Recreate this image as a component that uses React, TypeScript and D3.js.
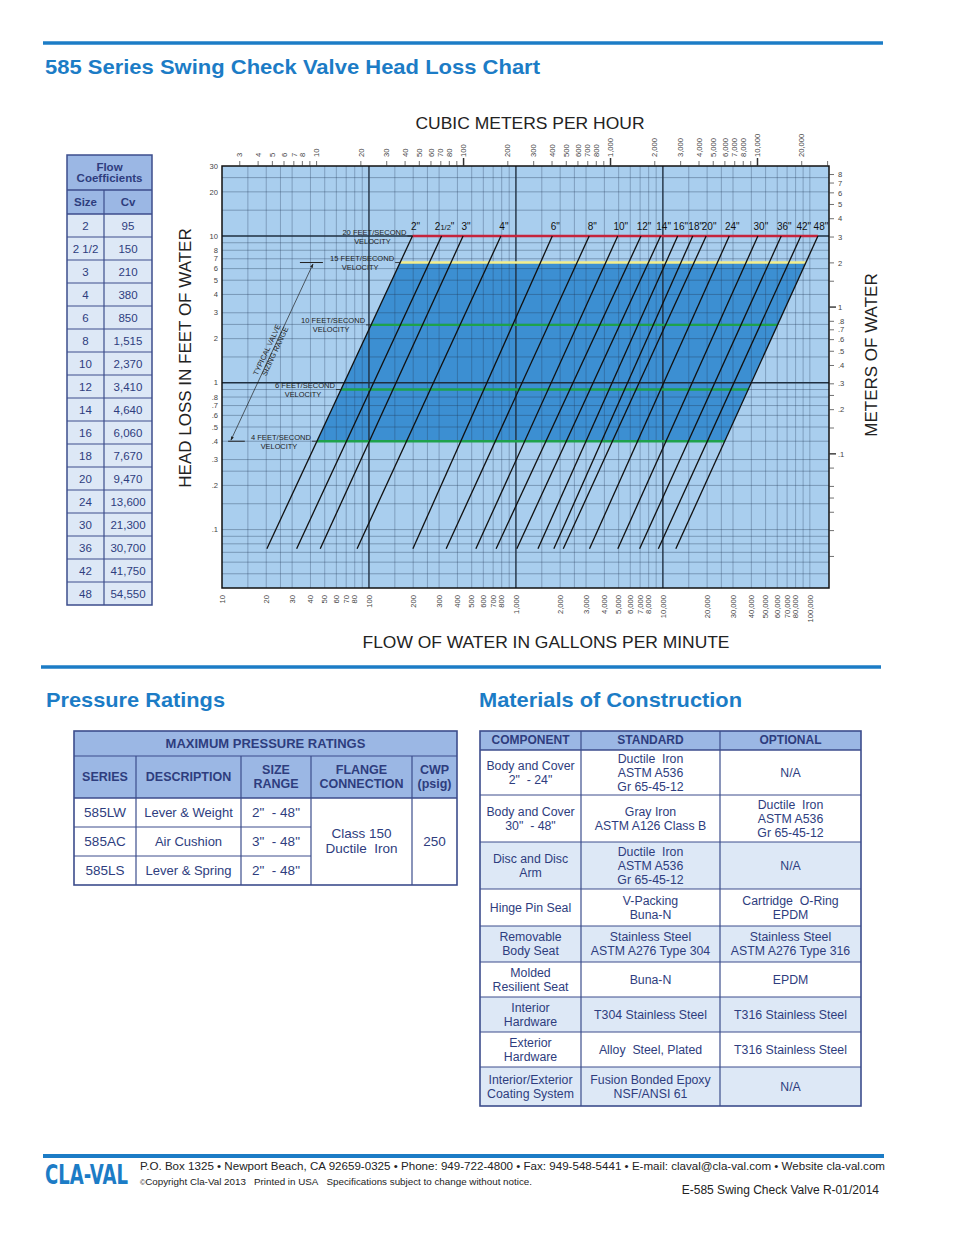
import React, { useLayoutEffect, useRef, useState } from 'react';
import * as d3 from 'd3';

// ---------- DATA ----------
const SIZE_LABELS = ['2"', '21/2"', '3"', '4"', '6"', '8"', '10"', '12"', '14"', '16"', '18"', '20"', '24"', '30"', '36"', '42"', '48"'];
const SIZE_TABLE = ['2', '2 1/2', '3', '4', '6', '8', '10', '12', '14', '16', '18', '20', '24', '30', '36', '42', '48'];
const CV = [95, 150, 210, 380, 850, 1515, 2370, 3410, 4640, 6060, 7670, 9470, 13600, 21300, 30700, 41750, 54550];
// lower end of each valve line (GPM)
const LINE_BOTTOM_GPM = [20.2, 32.2, 46.6, 83, 199, 335, 534, 733, 1014, 1412, 1811, 2100, 3167, 4935, 6944, 9310, 12250];
const HEAD_TOP_FT = 10;
const HEAD_BOTTOM_FT = 0.074;
const VELOCITY_FPS = [20, 15, 10, 6, 4];
const VELOCITY_HEAD_FT = [10, 6.6, 2.48, 0.9, 0.4];
const VELOCITY_COLORS = ['#c5243c', '#f3ee8c', '#1ea24c', '#1ea24c', '#1ea24c'];

const GPM_LABELS = [10, 20, 30, 40, 50, 60, 70, 80, 100, 200, 300, 400, 500, 600, 700, 800, 1000, 2000, 3000, 4000, 5000, 6000, 7000, 8000, 10000, 20000, 30000, 40000, 50000, 60000, 70000, 80000, 100000];
const M3H_LABELS = [3, 4, 5, 6, 7, 8, 10, 20, 30, 40, 50, 60, 70, 80, 100, 200, 300, 400, 500, 600, 700, 800, 1000, 2000, 3000, 4000, 5000, 6000, 7000, 8000, 10000, 20000];
const FT_LABELS = [30, 20, 10, 8, 7, 6, 5, 4, 3, 2, 1, 0.8, 0.7, 0.6, 0.5, 0.4, 0.3, 0.2, 0.1];
const M_LABELS = [8, 7, 6, 5, 4, 3, 2, 1, 0.8, 0.7, 0.6, 0.5, 0.4, 0.3, 0.2, 0.1];
const M_MINOR_TICKS = [1.5, 0.25, 0.15, 0.08, 0.06, 0.05, 0.04, 0.03, 0.02];
const GRID_MULT = [1, 1.5, 2, 2.5, 3, 4, 5, 6, 7, 8, 9];

const NB = '\u00A0';
const PR_HEAD = [['SERIES'], ['DESCRIPTION'], ['SIZE', 'RANGE'], ['FLANGE', 'CONNECTION'], ['CWP', '(psig)']];
const PR_SERIES = ['585LW', '585AC', '585LS'];
const PR_DESC = ['Lever & Weight', 'Air Cushion', 'Lever & Spring'];
const PR_RANGE = [`2"${NB} - 48"`, `3"${NB} - 48"`, `2"${NB} - 48"`];
const PR_FLANGE = ['Class 150', `Ductile${NB} Iron`];
const PR_CWP = '250';

const MAT_HEAD = ['COMPONENT', 'STANDARD', 'OPTIONAL'];
const MAT_COMPONENT = [['Body and Cover', `2"${NB} - 24"`], ['Body and Cover', `30"${NB} - 48"`], ['Disc and Disc', 'Arm'], ['Hinge Pin Seal'], ['Removable', 'Body Seat'], ['Molded', 'Resilient Seat'], ['Interior', 'Hardware'], ['Exterior', 'Hardware'], ['Interior/Exterior', 'Coating System']];
const MAT_STANDARD = [[`Ductile${NB} Iron`, 'ASTM A536', 'Gr 65-45-12'], ['Gray Iron', 'ASTM A126 Class B'], [`Ductile${NB} Iron`, 'ASTM A536', 'Gr 65-45-12'], ['V-Packing', 'Buna-N'], ['Stainless Steel', 'ASTM A276 Type 304'], ['Buna-N'], ['T304 Stainless Steel'], [`Alloy${NB} Steel, Plated`], ['Fusion Bonded Epoxy', 'NSF/ANSI 61']];
const MAT_OPTIONAL = [['N/A'], [`Ductile${NB} Iron`, 'ASTM A536', 'Gr 65-45-12'], ['N/A'], [`Cartridge${NB} O-Ring`, 'EPDM'], ['Stainless Steel', 'ASTM A276 Type 316'], ['EPDM'], ['T316 Stainless Steel'], ['T316 Stainless Steel'], ['N/A']];
const MAT_SHADED = [false, false, true, false, true, false, true, false, true];

// ---------- STYLE ----------
const FONT = "'Liberation Sans', Arial, Helvetica, sans-serif";
const BLUE = '#1c7cc6';
const NAVY = '#2e3d7e';
const HEAD_BG = '#9bb7e4';
const LIGHT_BG = '#dde8f6';
const BORDER = '#3c4d8c';
const GPM_PER_M3H = 4.40287;
const FT_PER_M = 1 / 0.3048;

const fmtComma = d3.format(',');
const fmtDec = (v: number) => (v < 1 ? String(v).replace(/^0/, '') : String(v));

function Lines({ x, y, lines, lh, ...rest }: any) {
  const y0 = y - ((lines.length - 1) * lh) / 2;
  return (
    <>
      {lines.map((t: string, i: number) => (
        <text key={i} x={x} y={y0 + i * lh} dy="0.35em" textAnchor="middle" {...rest}>
          {t}
        </text>
      ))}
    </>
  );
}

function SizeLabel({ label, x, y }: any) {
  if (label.indexOf('1/2') >= 0) {
    return (
      <text x={x} y={y} textAnchor="middle" fontSize={10} fill="#111">
        2<tspan fontSize={7.5}>1/2</tspan>"
      </text>
    );
  }
  return (
    <text x={x} y={y} textAnchor="middle" fontSize={10} fill="#111">
      {label}
    </text>
  );
}

function Logo() {
  const ref = useRef<SVGTextElement>(null);
  const [sx, setSx] = useState(0.8);
  useLayoutEffect(() => {
    if (ref.current) {
      const len = ref.current.getComputedTextLength();
      if (len > 0) setSx(83 / len);
    }
  }, []);
  return (
    <g transform={`translate(45,1184) scale(${sx},1)`}>
      <text ref={ref} x={0} y={0} fontFamily="'Liberation Sans Narrow', 'DejaVu Sans Condensed', Arial, sans-serif" fontWeight="bold" fontSize={27} fill={BLUE}>CLA-VAL</text>
    </g>
  );
}

function Chart() {
  const X0 = 222, X1 = 829, Y0 = 166, Y1 = 588;
  const x = d3.scaleLog().domain([10, 135000]).range([X0, X1]);
  const y = d3.scaleLog().domain([30, 0.04]).range([Y0, Y1]);

  const topQ = CV.map((cv) => cv * Math.sqrt(HEAD_TOP_FT / 2.31));
  const qAt = (i: number, h: number) => {
    const lt = Math.log10(HEAD_TOP_FT), lb = Math.log10(HEAD_BOTTOM_FT);
    const t = (lt - Math.log10(h)) / (lt - lb);
    return Math.pow(10, Math.log10(topQ[i]) + t * (Math.log10(LINE_BOTTOM_GPM[i]) - Math.log10(topQ[i])));
  };
  const last = CV.length - 1;

  const vGrid: number[] = [];
  [10, 100, 1000, 10000, 100000].forEach((d) => GRID_MULT.forEach((m) => { const v = d * m; if (v > 10 && v < 135000) vGrid.push(v); }));
  const hGrid: number[] = [];
  [0.01, 0.1, 1, 10].forEach((d) => GRID_MULT.forEach((m) => { const v = +(d * m).toFixed(4); if (v > 0.04 && v < 30) hGrid.push(v); }));
  const topTicks: number[] = [];
  [1, 10, 100, 1000, 10000].forEach((d) => [1, 2, 3, 4, 5, 6, 7, 8, 9].forEach((m) => { const v = d * m; const px = x(v * GPM_PER_M3H); if (px > X0 + 1 && px < X1 - 1) topTicks.push(v); }));

  const hiLo = (h: number) => [x(qAt(0, h)), x(qAt(last, h))];
  const regionTop = VELOCITY_HEAD_FT[1], regionBot = VELOCITY_HEAD_FT[4];
  const region = [
    [x(qAt(0, regionTop)), y(regionTop)],
    [x(qAt(last, regionTop)), y(regionTop)],
    [x(qAt(last, regionBot)), y(regionBot)],
    [x(qAt(0, regionBot)), y(regionBot)],
  ];
  const regionPath = d3.line()(region as any) + 'Z';

  const ax1 = x(11.5), ay1 = y(VELOCITY_HEAD_FT[4]) - 1;
  const ax2 = x(41.6), ay2 = y(VELOCITY_HEAD_FT[1]) + 1.5;
  const ang = (Math.atan2(ay2 - ay1, ax2 - ax1) * 180) / Math.PI;
  const amx = (ax1 + ax2) / 2, amy = (ay1 + ay2) / 2;

  return (
    <g fontFamily={FONT}>
      <defs>
        <marker id="arr" viewBox="0 0 10 10" refX="9" refY="5" markerWidth="6" markerHeight="6" orient="auto-start-reverse">
          <path d="M0,1.5 L10,5 L0,8.5 Z" fill="#222" />
        </marker>
        <clipPath id="plotclip"><rect x={X0} y={Y0} width={X1 - X0} height={Y1 - Y0} /></clipPath>
      </defs>
      <rect x={X0} y={Y0} width={X1 - X0} height={Y1 - Y0} fill="#a9ceee" />
      <path d={regionPath} fill="#3c8fd2" />
      <g clipPath="url(#plotclip)">
        {vGrid.map((v) => {
          const thick = v === 100 || v === 1000 || v === 10000;
          return <line key={'v' + v} x1={x(v)} x2={x(v)} y1={Y0} y2={Y1} stroke={thick ? '#1f2f40' : 'rgba(35,55,85,0.45)'} strokeWidth={thick ? 1.4 : 0.7} />;
        })}
        {hGrid.map((v) => {
          const thick = v === 1 || v === 10;
          return <line key={'h' + v} x1={X0} x2={X1} y1={y(v)} y2={y(v)} stroke={thick ? '#1f2f40' : 'rgba(35,55,85,0.45)'} strokeWidth={thick ? 1.4 : 0.8} />;
        })}
      </g>
      {VELOCITY_HEAD_FT.map((h, k) => {
        const [xa, xb] = hiLo(h);
        return <line key={'vel' + k} x1={xa} x2={xb} y1={y(h)} y2={y(h)} stroke={VELOCITY_COLORS[k]} strokeWidth={2.4} />;
      })}
      {CV.map((cv, i) => (
        <line key={'l' + i} x1={x(topQ[i])} y1={y(HEAD_TOP_FT)} x2={x(LINE_BOTTOM_GPM[i])} y2={y(HEAD_BOTTOM_FT)} stroke="#111" strokeWidth={1.3} />
      ))}
      {CV.map((cv, i) => (
        <SizeLabel key={'s' + i} label={SIZE_LABELS[i]} x={x(topQ[i]) + 3} y={y(HEAD_TOP_FT) - 6} />
      ))}
      {VELOCITY_HEAD_FT.map((h, k) => {
        const xs = hiLo(h)[0];
        const w1 = VELOCITY_FPS[k] >= 10 ? 64 : 60;
        const xe = xs - 6;
        return (
          <g key={'vl' + k} fontSize={7.4} fill="#222">
            <text x={xe} y={y(h) - 1.5} textAnchor="end" textLength={w1} lengthAdjust="spacingAndGlyphs">{`${VELOCITY_FPS[k]} FEET/SECOND`}</text>
            <text x={xe - w1 / 2 - 2} y={y(h) + 7.5} textAnchor="middle">VELOCITY</text>
            <line x1={xe + 1} x2={xs} y1={y(h)} y2={y(h)} stroke="#222" strokeWidth={0.8} />
          </g>
        );
      })}
      <line x1={x(11.0)} x2={x(14.3)} y1={y(VELOCITY_HEAD_FT[4])} y2={y(VELOCITY_HEAD_FT[4])} stroke="#222" strokeWidth={1} />
      <line x1={x(33.9)} x2={x(48.6)} y1={y(VELOCITY_HEAD_FT[1])} y2={y(VELOCITY_HEAD_FT[1])} stroke="#222" strokeWidth={1} />
      <line x1={ax1} y1={ay1} x2={ax2} y2={ay2} stroke="#222" strokeWidth={0.7} markerStart="url(#arr)" markerEnd="url(#arr)" />
      <g transform={`translate(${amx},${amy}) rotate(${ang})`} fontSize={7.4} fill="#222" textAnchor="middle">
        <text x={0} y={-3}>TYPICAL VALVE</text>
        <text x={2} y={5}>SIZING RANGE</text>
      </g>
      <rect x={X0} y={Y0} width={X1 - X0} height={Y1 - Y0} fill="none" stroke="#111" strokeWidth={1.5} />

      {topTicks.map((v) => {
        const big = v === 100 || v === 1000 || v === 10000;
        const px = x(v * GPM_PER_M3H);
        return <line key={'tt' + v} x1={px} x2={px} y1={Y0} y2={Y0 - (big ? 8 : 5)} stroke="#333" strokeWidth={big ? 1.5 : 0.7} />;
      })}
      {M3H_LABELS.map((v) => {
        const px = x(v * GPM_PER_M3H);
        return (
          <text key={'tl' + v} transform={`translate(${px},${Y0 - 9}) rotate(-90)`} dy="0.35em" fontSize={7.6} fill="#444" textAnchor="start">
            {fmtComma(v)}
          </text>
        );
      })}
      {GPM_LABELS.map((v) => (
        <text key={'bl' + v} transform={`translate(${x(v)},${Y1 + 7}) rotate(-90)`} dy="0.35em" fontSize={7.6} fill="#444" textAnchor="end">
          {fmtComma(v)}
        </text>
      ))}
      {FT_LABELS.map((v) => (
        <text key={'fl' + v} x={X0 - 4} y={y(v)} dy="0.35em" fontSize={7.6} fill="#444" textAnchor="end">
          {fmtDec(v)}
        </text>
      ))}
      {[...M_LABELS, ...M_MINOR_TICKS].map((v) => {
        const big = v === 1 || v === 0.1;
        const py = y(v * FT_PER_M);
        return <line key={'rt' + v} x1={X1} x2={X1 + (big ? 7 : 5)} y1={py} y2={py} stroke="#333" strokeWidth={big ? 1.4 : 0.7} />;
      })}
      {M_LABELS.map((v) => (
        <text key={'rl' + v} x={X1 + 9} y={y(v * FT_PER_M)} dy="0.35em" fontSize={7.6} fill="#444">
          {fmtDec(v)}
        </text>
      ))}

      <text x={530} y={129} textAnchor="middle" fontSize={17} fill="#222" textLength={229} lengthAdjust="spacingAndGlyphs">CUBIC METERS PER HOUR</text>
      <text x={546} y={648} textAnchor="middle" fontSize={17} fill="#222" textLength={367} lengthAdjust="spacingAndGlyphs">FLOW OF WATER IN GALLONS PER MINUTE</text>
      <text transform="translate(191,358) rotate(-90)" textAnchor="middle" fontSize={17} fill="#222">HEAD LOSS IN FEET OF WATER</text>
      <text transform="translate(877,355) rotate(-90)" textAnchor="middle" fontSize={17} fill="#222">METERS OF WATER</text>
    </g>
  );
}

function FlowTable() {
  const x0 = 67, xm = 104, x1 = 152;
  const yTop = 155, yH = 190, yRows = 214, rh = 23;
  const yEnd = yRows + rh * SIZE_TABLE.length;
  return (
    <g fontFamily={FONT}>
      <rect x={x0} y={yTop} width={x1 - x0} height={yRows - yTop} fill={HEAD_BG} />
      <rect x={x0} y={yRows} width={x1 - x0} height={yEnd - yRows} fill={LIGHT_BG} />
      <Lines x={(x0 + x1) / 2} y={172.5} lines={['Flow', 'Coefficients']} lh={11.5} fontSize={11.5} fontWeight="bold" fill={NAVY} />
      <text x={(x0 + xm) / 2} y={202} dy="0.35em" textAnchor="middle" fontSize={11.5} fontWeight="bold" fill={NAVY}>Size</text>
      <text x={(xm + x1) / 2} y={202} dy="0.35em" textAnchor="middle" fontSize={11.5} fontWeight="bold" fill={NAVY}>Cv</text>
      {SIZE_TABLE.map((s, i) => (
        <g key={i}>
          <text x={(x0 + xm) / 2} y={yRows + rh * i + rh / 2} dy="0.35em" textAnchor="middle" fontSize={11.5} fill={NAVY}>{s}</text>
          <text x={(xm + x1) / 2} y={yRows + rh * i + rh / 2} dy="0.35em" textAnchor="middle" fontSize={11.5} fill={NAVY}>{fmtComma(CV[i])}</text>
        </g>
      ))}
      {[yH, ...SIZE_TABLE.map((_, i) => yRows + rh * i)].map((yy, i) => (
        <line key={i} x1={x0} x2={x1} y1={yy} y2={yy} stroke={BORDER} strokeWidth={i <= 1 ? 1.5 : 1} />
      ))}
      <line x1={xm} x2={xm} y1={yH} y2={yEnd} stroke={BORDER} strokeWidth={1.2} />
      <rect x={x0} y={yTop} width={x1 - x0} height={yEnd - yTop} fill="none" stroke={BORDER} strokeWidth={1.5} />
    </g>
  );
}

function PressureTable() {
  const cols = [74, 136, 241, 311, 412, 457];
  const yT = 731, yH = 756, yB = 798, rh = 29, yEnd = yB + rh * 3;
  const cx = (i: number) => (cols[i] + cols[i + 1]) / 2;
  return (
    <g fontFamily={FONT}>
      <rect x={cols[0]} y={yT} width={cols[5] - cols[0]} height={yB - yT} fill={HEAD_BG} />
      <rect x={cols[0]} y={yB} width={cols[5] - cols[0]} height={yEnd - yB} fill="#fff" />
      <text x={(cols[0] + cols[5]) / 2} y={743.5} dy="0.35em" textAnchor="middle" fontSize={13} fontWeight="bold" fill={NAVY}>MAXIMUM PRESSURE RATINGS</text>
      {PR_HEAD.map((l, i) => (
        <Lines key={i} x={cx(i)} y={777} lines={l} lh={14} fontSize={12.5} fontWeight="bold" fill={NAVY} />
      ))}
      {PR_SERIES.map((s, r) => (
        <g key={r} fontSize={13.5} fill={NAVY}>
          <text x={cx(0)} y={yB + rh * r + rh / 2} dy="0.35em" textAnchor="middle">{s}</text>
          <text x={cx(1)} y={yB + rh * r + rh / 2} dy="0.35em" textAnchor="middle" fontSize={13}>{PR_DESC[r]}</text>
          <text x={cx(2)} y={yB + rh * r + rh / 2} dy="0.35em" textAnchor="middle">{PR_RANGE[r]}</text>
        </g>
      ))}
      <Lines x={cx(3)} y={841} lines={PR_FLANGE} lh={14.5} fontSize={13.5} fill={NAVY} />
      <text x={cx(4)} y={841} dy="0.35em" textAnchor="middle" fontSize={13.5} fill={NAVY}>{PR_CWP}</text>
      <line x1={cols[0]} x2={cols[5]} y1={yH} y2={yH} stroke={BORDER} strokeWidth={1.2} />
      <line x1={cols[0]} x2={cols[5]} y1={yB} y2={yB} stroke={BORDER} strokeWidth={1.5} />
      {[1, 2].map((r) => (
        <line key={r} x1={cols[0]} x2={cols[3]} y1={yB + rh * r} y2={yB + rh * r} stroke={BORDER} strokeWidth={1} />
      ))}
      {cols.slice(1, 5).map((c, i) => (
        <line key={i} x1={c} x2={c} y1={yH} y2={yEnd} stroke={BORDER} strokeWidth={1.2} />
      ))}
      <rect x={cols[0]} y={yT} width={cols[5] - cols[0]} height={yEnd - yT} fill="none" stroke={BORDER} strokeWidth={1.6} />
    </g>
  );
}

function MaterialsTable() {
  const cols = [480, 581, 720, 861];
  const rows = [750, 795, 842, 889, 926, 962, 997, 1032, 1067, 1106];
  const yT = 731;
  const cx = (i: number) => (cols[i] + cols[i + 1]) / 2;
  const data = [MAT_COMPONENT, MAT_STANDARD, MAT_OPTIONAL];
  return (
    <g fontFamily={FONT}>
      <rect x={cols[0]} y={yT} width={cols[3] - cols[0]} height={rows[0] - yT} fill={HEAD_BG} />
      {MAT_SHADED.map((s, r) => (
        <rect key={r} x={cols[0]} y={rows[r]} width={cols[3] - cols[0]} height={rows[r + 1] - rows[r]} fill={s ? LIGHT_BG : '#fff'} />
      ))}
      {MAT_HEAD.map((h, i) => (
        <text key={i} x={cx(i)} y={740} dy="0.35em" textAnchor="middle" fontSize={12} fontWeight="bold" fill={NAVY}>{h}</text>
      ))}
      {MAT_COMPONENT.map((_, r) => (
        <g key={r}>
          {data.map((col, c) => (
            <Lines key={c} x={cx(c)} y={(rows[r] + rows[r + 1]) / 2} lines={col[r]} lh={14} fontSize={12.3} fill={NAVY} />
          ))}
        </g>
      ))}
      {rows.slice(0, -1).map((yy, i) => (
        <line key={i} x1={cols[0]} x2={cols[3]} y1={yy} y2={yy} stroke={BORDER} strokeWidth={i === 0 ? 1.5 : 1} />
      ))}
      {cols.slice(1, 3).map((c, i) => (
        <line key={i} x1={c} x2={c} y1={yT} y2={rows[rows.length - 1]} stroke={BORDER} strokeWidth={1.2} />
      ))}
      <rect x={cols[0]} y={yT} width={cols[3] - cols[0]} height={rows[rows.length - 1] - yT} fill="none" stroke={BORDER} strokeWidth={1.6} />
    </g>
  );
}

export default function App() {
  return (
    <svg width={954} height={1235} style={{ position: 'absolute', left: 0, top: 0, background: '#fff' }} xmlns="http://www.w3.org/2000/svg">
      <rect x={0} y={0} width={954} height={1235} fill="#fff" />
      <line x1={43} x2={883} y1={43} y2={43} stroke={BLUE} strokeWidth={3.5} />
      <text x={45} y={74} fontFamily={FONT} fontWeight="bold" fontSize={21} fill={BLUE} textLength={495} lengthAdjust="spacingAndGlyphs">585 Series Swing Check Valve Head Loss Chart</text>
      <Chart />
      <FlowTable />
      <line x1={41} x2={881} y1={667} y2={667} stroke={BLUE} strokeWidth={3.5} />
      <text x={46} y={707} fontFamily={FONT} fontWeight="bold" fontSize={21} fill={BLUE} textLength={179} lengthAdjust="spacingAndGlyphs">Pressure Ratings</text>
      <text x={479} y={707} fontFamily={FONT} fontWeight="bold" fontSize={21} fill={BLUE} textLength={263} lengthAdjust="spacingAndGlyphs">Materials of Construction</text>
      <PressureTable />
      <MaterialsTable />
      <line x1={43} x2={884} y1={1156} y2={1156} stroke={BLUE} strokeWidth={4} />
      <Logo />
      <text x={140} y={1170} fontFamily={FONT} fontSize={11} fill="#222" textLength={745} lengthAdjust="spacingAndGlyphs">P.O. Box 1325 • Newport Beach, CA 92659-0325 • Phone: 949-722-4800 • Fax: 949-548-5441 • E-mail: claval@cla-val.com • Website cla-val.com</text>
      <text x={140} y={1185} fontFamily={FONT} fontSize={9} fill="#222" textLength={392} lengthAdjust="spacingAndGlyphs">
        <tspan fontSize={6.5}>©</tspan>
        {`Copyright Cla-Val 2013${NB}${NB} Printed in USA${NB}${NB} Specifications subject to change without notice.`}
      </text>
      <text x={879} y={1194} fontFamily={FONT} fontSize={12} fill="#222" textAnchor="end">E-585 Swing Check Valve R-01/2014</text>
    </svg>
  );
}
